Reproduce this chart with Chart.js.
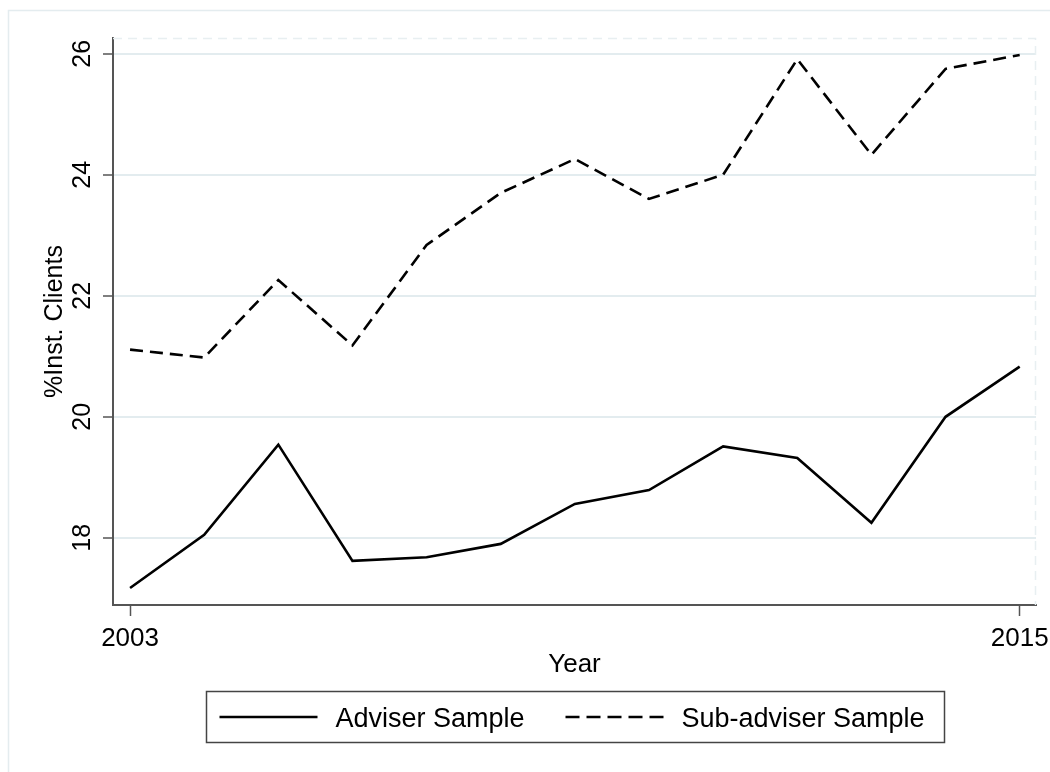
<!DOCTYPE html>
<html>
<head>
<meta charset="utf-8">
<script src="https://cdn.jsdelivr.net/npm/chart.js@4.4.1/dist/chart.umd.min.js"></script>
<style>
  html, body { margin: 0; padding: 0; background: #ffffff; }
  #chart { display: block; }
</style>
</head>
<body>
<canvas id="chart" width="1050" height="772"></canvas>
<script>
// Share of institutional clients by year, adviser vs. sub-adviser samples
const years = [2003, 2004, 2005, 2006, 2007, 2008, 2009, 2010, 2011, 2012, 2013, 2014, 2015];
const adviserSample = [17.17, 18.05, 19.54, 17.62, 17.68, 17.90, 18.56, 18.79, 19.51, 19.32, 18.25, 20.00, 20.83];
const subAdviserSample = [21.11, 20.98, 22.26, 21.18, 22.84, 23.70, 24.26, 23.60, 24.00, 25.91, 24.33, 25.75, 25.98];
const yTickValues = [18, 20, 22, 24, 26];
const xTickValues = [2003, 2015];
const seriesNames = ['Adviser Sample', 'Sub-adviser Sample'];
const xTitle = 'Year';
const yTitle = '%Inst. Clients';

const FONT = '"Liberation Sans", Arial, Helvetica, sans-serif';
const AXIS_COLOR = '#555555';
const GRID_COLOR = '#e3ecef';
const SUB_DASH = [13, 7];

const toPoints = (vals) => years.map((yr, i) => ({ x: yr, y: vals[i] }));

const decor = {
  id: 'decor',
  beforeDraw(chart) {
    const ctx = chart.ctx;
    ctx.save();
    ctx.fillStyle = '#ffffff';
    ctx.fillRect(0, 0, chart.width, chart.height);
    // outer graph-region frame
    ctx.strokeStyle = '#e4ecef';
    ctx.lineWidth = 1.5;
    ctx.strokeRect(8.5, 10.5, chart.width - 1, chart.height - 2);
    ctx.restore();
  },
  beforeDatasetsDraw(chart) {
    const ctx = chart.ctx;
    const a = chart.chartArea;
    ctx.save();
    // faint plot-region outline on the open sides
    ctx.strokeStyle = '#e8eff1';
    ctx.lineWidth = 1.5;
    ctx.setLineDash([9, 6]);
    ctx.beginPath();
    ctx.moveTo(a.left, a.top + 0.5);
    ctx.lineTo(a.right - 0.5, a.top + 0.5);
    ctx.lineTo(a.right - 0.5, a.bottom);
    ctx.stroke();
    ctx.restore();
  },
  afterDraw(chart) {
    const ctx = chart.ctx;
    const a = chart.chartArea;
    const xs = chart.scales.x;
    const ys = chart.scales.y;
    ctx.save();
    ctx.fillStyle = '#000000';

    // y tick labels, rotated to read upward
    ctx.font = '25px ' + FONT;
    ctx.textAlign = 'center';
    ctx.textBaseline = 'alphabetic';
    ys.ticks.forEach(t => {
      const py = ys.getPixelForValue(t.value);
      ctx.save();
      ctx.translate(a.left - 23, py);
      ctx.rotate(-Math.PI / 2);
      ctx.fillText(String(t.value), 0, 0);
      ctx.restore();
    });

    // y axis title
    ctx.save();
    ctx.translate(a.left - 51, (a.top + a.bottom) / 2);
    ctx.rotate(-Math.PI / 2);
    ctx.fillText(yTitle, 0, 0);
    ctx.restore();

    // x tick labels
    ctx.font = '26px ' + FONT;
    xs.ticks.forEach(t => {
      ctx.fillText(String(t.value), xs.getPixelForValue(t.value), a.bottom + 41);
    });

    // x axis title
    ctx.fillText(xTitle, (a.left + a.right) / 2, a.bottom + 67);

    // legend
    const cx = (a.left + a.right) / 2;
    const boxW = 738, boxH = 51;
    const bx = Math.round(cx - boxW / 2) + 0.5;
    const by = a.bottom + 86.5;
    ctx.strokeStyle = '#444444';
    ctx.lineWidth = 1.5;
    ctx.strokeRect(bx, by, boxW, boxH);

    const midY = by + boxH / 2;
    const items = [
      { dash: [], x0: bx + 13, label: seriesNames[0] },
      { dash: [14, 7], x0: bx + 359, label: seriesNames[1] }
    ];
    ctx.textAlign = 'left';
    ctx.font = '27px ' + FONT;
    items.forEach(it => {
      ctx.strokeStyle = '#000000';
      ctx.lineWidth = 2.6;
      ctx.setLineDash(it.dash);
      ctx.beginPath();
      ctx.moveTo(it.x0, midY);
      ctx.lineTo(it.x0 + 98, midY);
      ctx.stroke();
      ctx.setLineDash([]);
      ctx.fillText(it.label, it.x0 + 116, midY + 10);
    });
    ctx.restore();
  }
};

new Chart(document.getElementById('chart'), {
  type: 'line',
  data: {
    datasets: [
      {
        label: seriesNames[0],
        data: toPoints(adviserSample),
        borderColor: '#000000',
        borderWidth: 2.6,
        pointRadius: 0,
        tension: 0,
        fill: false
      },
      {
        label: seriesNames[1],
        data: toPoints(subAdviserSample),
        borderColor: '#000000',
        borderWidth: 2.6,
        borderDash: SUB_DASH,
        pointRadius: 0,
        tension: 0,
        fill: false
      }
    ]
  },
  options: {
    responsive: false,
    animation: false,
    devicePixelRatio: 1,
    layout: { padding: { top: 38, right: 14, left: 0, bottom: 0 } },
    plugins: {
      legend: { display: false },
      title: { display: false },
      tooltip: { enabled: false }
    },
    scales: {
      x: {
        type: 'linear',
        min: 2002.77,
        max: 2015.22,
        afterBuildTicks: (s) => { s.ticks = xTickValues.map(v => ({ value: v })); },
        afterFit: (s) => { s.height = 167; },
        ticks: { display: false },
        grid: {
          drawOnChartArea: false,
          drawTicks: true,
          tickLength: 11,
          tickColor: AXIS_COLOR,
          tickWidth: 1.5
        },
        border: { display: true, color: AXIS_COLOR, width: 2 }
      },
      y: {
        type: 'linear',
        min: 16.89,
        max: 26.26,
        afterBuildTicks: (s) => { s.ticks = yTickValues.map(v => ({ value: v })); },
        afterFit: (s) => { s.width = 113; },
        ticks: { display: false },
        grid: {
          drawOnChartArea: true,
          color: GRID_COLOR,
          lineWidth: 2,
          drawTicks: true,
          tickLength: 10,
          tickColor: AXIS_COLOR,
          tickWidth: 1.5
        },
        border: { display: true, color: AXIS_COLOR, width: 2 }
      }
    }
  },
  plugins: [decor]
});
</script>
</body>
</html>
